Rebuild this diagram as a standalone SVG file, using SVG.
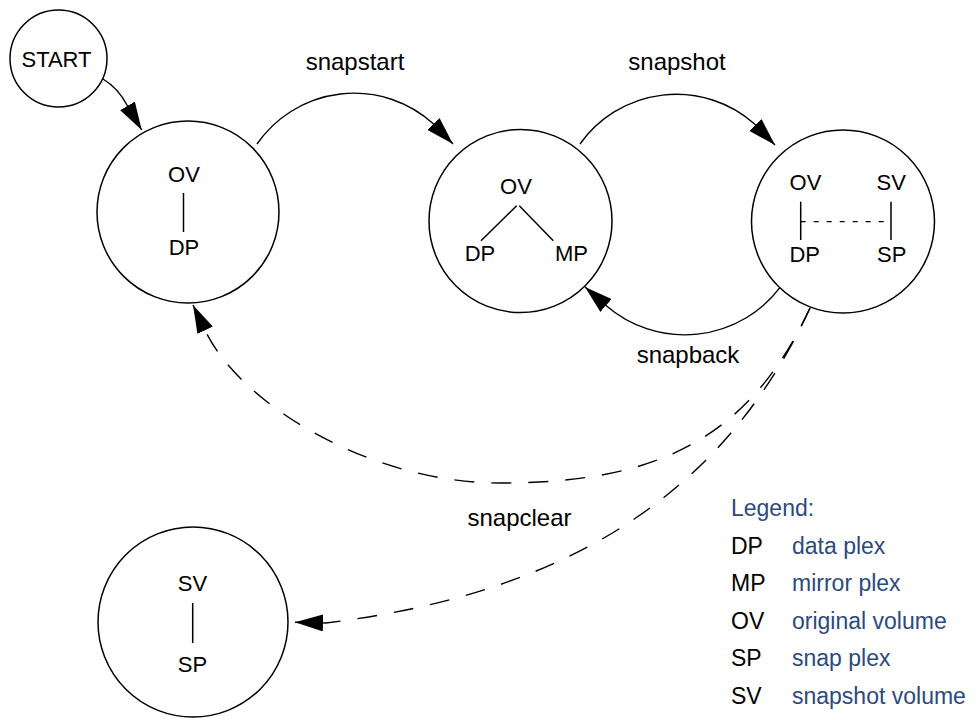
<svg xmlns="http://www.w3.org/2000/svg" width="980" height="720" viewBox="0 0 980 720">
<style>
.node{fill:#fff;stroke:#000;stroke-width:1.5}
.t{font-family:"Liberation Sans",Arial,sans-serif;font-size:22px;fill:#000;text-anchor:middle}
.e{font-family:"Liberation Sans",Arial,sans-serif;font-size:24px;fill:#000;text-anchor:middle}
.lg{font-family:"Liberation Sans",Arial,sans-serif;font-size:23px;fill:#000}
.lb{font-family:"Liberation Sans",Arial,sans-serif;font-size:23px;fill:#2c4a7c}
.in{stroke:#000;stroke-width:1.5;fill:none}
.dot{stroke:#000;stroke-width:1.3;fill:none;stroke-dasharray:5 8}
.c{fill:none;stroke:#000;stroke-width:1.4;marker-end:url(#ah)}
.d{fill:none;stroke:#000;stroke-width:1.4;stroke-dasharray:20 17;marker-end:url(#ah)}
</style>
<defs>
<marker id="ah" markerUnits="userSpaceOnUse" viewBox="0 0 28 17" markerWidth="28" markerHeight="17" refX="28" refY="8.5" orient="auto">
<path d="M0,0 L28,8.5 L0,17 z" fill="#000" stroke="none"/>
</marker>
</defs>
<rect width="980" height="720" fill="#fff"/>
<g id="connectors">
<path class="c" d="M103,79 Q118,88 127,105 L141.7,130"/>
<path class="c" d="M257,144 A118,118 0 0,1 433,123.5 L453,144"/>
<path class="c" d="M580,144 A118,118 0 0,1 754,123.5 L775,145"/>
<path class="c" d="M780.7,286.7 A120,120 0 0,1 606,305.5 L585,287"/>
<path class="d" d="M810,308 C747,444 650,483 500,483 C370,483 240.7,404 206,332 L193,305"/>
<path class="d" d="M810,308 C726,490 573.5,592.6 326,623 L295,622.3"/>
</g>
<g id="edge-labels">
<text class="e" x="355" y="70">snapstart</text>
<text class="e" x="677" y="70">snapshot</text>
<text class="e" x="688" y="363">snapback</text>
<text class="e" x="519.5" y="526">snapclear</text>
</g>
<g id="start">
<circle class="node" cx="58.5" cy="58.5" r="48.5"/>
<text class="t" x="56.5" y="67">START</text>
</g>
<g id="state1">
<circle class="node" cx="188" cy="212" r="91"/>
<text class="t" x="184" y="182">OV</text>
<line class="in" x1="183.5" y1="193" x2="183.5" y2="232"/>
<text class="t" x="184" y="255">DP</text>
</g>
<g id="state2">
<circle class="node" cx="520.5" cy="221" r="91.5"/>
<text class="t" x="516" y="194">OV</text>
<line class="in" x1="516.7" y1="205.7" x2="481" y2="240.7"/>
<line class="in" x1="519.3" y1="205.7" x2="553.3" y2="240.7"/>
<text class="t" x="480" y="260.7">DP</text>
<text class="t" x="571.5" y="260.7">MP</text>
</g>
<g id="state3">
<circle class="node" cx="843" cy="221.5" r="91.5"/>
<text class="t" x="805.5" y="190">OV</text>
<text class="t" x="891.3" y="190">SV</text>
<line class="in" x1="800.7" y1="201.7" x2="800.7" y2="240"/>
<line class="in" x1="891" y1="201.7" x2="891" y2="240"/>
<line class="dot" x1="800.7" y1="221.7" x2="891" y2="221.7"/>
<text class="t" x="804.7" y="261.7">DP</text>
<text class="t" x="891.7" y="261.7">SP</text>
</g>
<g id="state4">
<circle class="node" cx="193" cy="622" r="95"/>
<text class="t" x="192.5" y="590.7">SV</text>
<line class="in" x1="192.7" y1="603" x2="192.7" y2="643"/>
<text class="t" x="192.5" y="671.7">SP</text>
</g>
<g id="legend">
<text class="lb" x="731" y="516">Legend:</text>
<text class="lg" x="731" y="553.5">DP</text><text class="lb" x="792" y="553.5">data plex</text>
<text class="lg" x="731" y="591">MP</text><text class="lb" x="792" y="591">mirror plex</text>
<text class="lg" x="731" y="628.5">OV</text><text class="lb" x="792" y="628.5">original volume</text>
<text class="lg" x="731" y="666">SP</text><text class="lb" x="792" y="666">snap plex</text>
<text class="lg" x="731" y="703.5">SV</text><text class="lb" x="792" y="703.5">snapshot volume</text>
</g>
</svg>
